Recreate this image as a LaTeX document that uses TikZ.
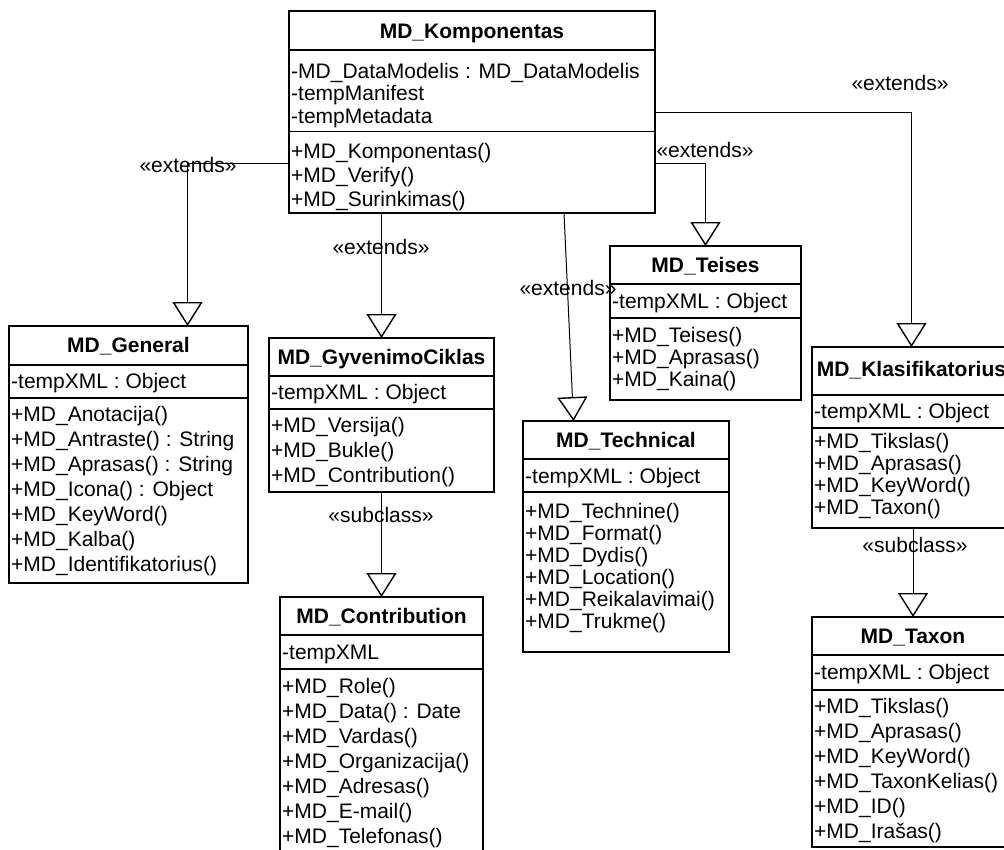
\documentclass[tikz,border=0pt]{standalone}
\usepackage{fontspec}
\setmainfont{Liberation Sans}
\usetikzlibrary{arrows.meta}
\newcommand{\umlfont}{\fontsize{21pt}{25pt}\selectfont}

\begin{document}
\begin{tikzpicture}[x=1pt, y=-1pt,
  cls/.style={draw, fill=white, line width=1.6pt, anchor=north west, inner sep=0pt, outer sep=0pt},
  sepl/.style={line width=1.6pt},
  mtxt/.style={anchor=west, inner sep=0pt, xshift=2pt, text height=15pt, text depth=0pt, font=\umlfont},
  ttxt/.style={inner sep=0pt, text height=15pt, text depth=0pt, font=\umlfont\bfseries},
  lbl/.style={inner sep=0pt, text height=15pt, text depth=0pt, font=\umlfont},
  inh/.style={line width=1pt, -{Triangle[open, length=24pt, width=30pt, line width=1.4pt]}}
]
\useasboundingbox (0,0) rectangle (1004,849);
\clip (0,0) rectangle (1004,849);

% ---- class boxes ----
\node[cls, minimum width=366pt, minimum height=202pt] (komp)  at (289,11)  {};
\node[cls, minimum width=239pt, minimum height=257pt] (gen)   at (9,326)   {};
\node[cls, minimum width=225pt, minimum height=154pt] (gyv)   at (269,338) {};
\node[cls, minimum width=203pt, minimum height=273pt] (contr) at (280,597) {};
\node[cls, minimum width=191pt, minimum height=154pt] (teis)  at (610,246) {};
\node[cls, minimum width=206pt, minimum height=231pt] (tech)  at (523,421) {};
\node[cls, minimum width=199pt, minimum height=181pt] (klas)  at (812,347) {};
\node[cls, minimum width=202pt, minimum height=230pt] (taxon) at (812,617) {};

% ---- generalisation connectors ----
\draw[inh] ([yshift=-51pt]komp.west) -| ([xshift=59pt]gen.north);
\draw[inh] (gyv.north |- komp.south) -- (gyv.north);
\draw[inh] ([xshift=92pt]komp.south) -- ([xshift=-52.5pt]tech.north);
\draw[inh] ([yshift=-51pt]komp.east) -| (teis.north);
\draw[inh] (komp.east) -| (klas.north);
\draw[inh] (gyv.south) -- (contr.north);
\draw[inh] (taxon.north |- klas.south) -- (taxon.north);

% ---- compartment separators ----
\foreach \b/\ya/\yb in {komp/50/131.5, gen/365/398, gyv/376/409, contr/635/669,
                        teis/284/318, tech/459/492, klas/395/428, taxon/655/690} {
  \draw[sepl] (\b.west |- 0,\ya) -- (\b.east |- 0,\ya);
  \draw[sepl] (\b.west |- 0,\yb) -- (\b.east |- 0,\yb);
}

% ---- MD_Komponentas ----
\node[ttxt] (komp-t) at (komp.north |- 0,30.5) {MD\_Komponentas};
\node[mtxt] (komp-a1) at (komp.west |- 0,70.5) {-MD\_DataModelis : MD\_DataModelis};
\node[mtxt] (komp-a2) at (komp.west |- 0,93)   {-tempManifest};
\node[mtxt] (komp-a3) at (komp.west |- 0,116)  {-tempMetadata};
\node[mtxt] (komp-m1) at (komp.west |- 0,151)  {+MD\_Komponentas()};
\node[mtxt] (komp-m2) at (komp.west |- 0,174.5){+MD\_Verify()};
\node[mtxt] (komp-m3) at (komp.west |- 0,198.5){+MD\_Surinkimas()};

% ---- MD_General ----
\node[ttxt] (gen-t) at (gen.north |- 0,345) {MD\_General};
\node[mtxt] (gen-a1) at (gen.west |- 0,381) {-tempXML : Object};
\node[mtxt] (gen-m1) at (gen.west |- 0,414) {+MD\_Anotacija()};
\node[mtxt] (gen-m2) at (gen.west |- 0,439) {+MD\_Antraste() : String};
\node[mtxt] (gen-m3) at (gen.west |- 0,464) {+MD\_Aprasas() : String};
\node[mtxt] (gen-m4) at (gen.west |- 0,489) {+MD\_Icona() : Object};
\node[mtxt] (gen-m5) at (gen.west |- 0,514) {+MD\_KeyWord()};
\node[mtxt] (gen-m6) at (gen.west |- 0,539) {+MD\_Kalba()};
\node[mtxt] (gen-m7) at (gen.west |- 0,564) {+MD\_Identifikatorius()};

% ---- MD_GyvenimoCiklas ----
\node[ttxt] (gyv-t) at (gyv.north |- 0,357) {MD\_GyvenimoCiklas};
\node[mtxt] (gyv-a1) at (gyv.west |- 0,392) {-tempXML : Object};
\node[mtxt] (gyv-m1) at (gyv.west |- 0,425) {+MD\_Versija()};
\node[mtxt] (gyv-m2) at (gyv.west |- 0,450) {+MD\_Bukle()};
\node[mtxt] (gyv-m3) at (gyv.west |- 0,475) {+MD\_Contribution()};

% ---- MD_Contribution ----
\node[ttxt] (contr-t) at (contr.north |- 0,616) {MD\_Contribution};
\node[mtxt] (contr-a1) at (contr.west |- 0,652) {-tempXML};
\node[mtxt] (contr-m1) at (contr.west |- 0,686) {+MD\_Role()};
\node[mtxt] (contr-m2) at (contr.west |- 0,711) {+MD\_Data() : Date};
\node[mtxt] (contr-m3) at (contr.west |- 0,736) {+MD\_Vardas()};
\node[mtxt] (contr-m4) at (contr.west |- 0,761) {+MD\_Organizacija()};
\node[mtxt] (contr-m5) at (contr.west |- 0,786) {+MD\_Adresas()};
\node[mtxt] (contr-m6) at (contr.west |- 0,811) {+MD\_E-mail()};
\node[mtxt] (contr-m7) at (contr.west |- 0,836) {+MD\_Telefonas()};

% ---- MD_Teises ----
\node[ttxt] (teis-t) at (teis.north |- 0,265) {MD\_Teises};
\node[mtxt] (teis-a1) at (teis.west |- 0,301) {-tempXML : Object};
\node[mtxt] (teis-m1) at (teis.west |- 0,335) {+MD\_Teises()};
\node[mtxt] (teis-m2) at (teis.west |- 0,357) {+MD\_Aprasas()};
\node[mtxt] (teis-m3) at (teis.west |- 0,379) {+MD\_Kaina()};

% ---- MD_Technical ----
\node[ttxt] (tech-t) at (tech.north |- 0,440) {MD\_Technical};
\node[mtxt] (tech-a1) at (tech.west |- 0,475.5) {-tempXML : Object};
\node[mtxt] (tech-m1) at (tech.west |- 0,511) {+MD\_Technine()};
\node[mtxt] (tech-m2) at (tech.west |- 0,533) {+MD\_Format()};
\node[mtxt] (tech-m3) at (tech.west |- 0,555) {+MD\_Dydis()};
\node[mtxt] (tech-m4) at (tech.west |- 0,577) {+MD\_Location()};
\node[mtxt] (tech-m5) at (tech.west |- 0,599) {+MD\_Reikalavimai()};
\node[mtxt] (tech-m6) at (tech.west |- 0,621) {+MD\_Trukme()};

% ---- MD_Klasifikatorius ----
\node[ttxt] (klas-t) at (klas.north |- 0,369) {MD\_Klasifikatorius};
\node[mtxt] (klas-a1) at (klas.west |- 0,411) {-tempXML : Object};
\node[mtxt] (klas-m1) at (klas.west |- 0,441) {+MD\_Tikslas()};
\node[mtxt] (klas-m2) at (klas.west |- 0,463) {+MD\_Aprasas()};
\node[mtxt] (klas-m3) at (klas.west |- 0,485) {+MD\_KeyWord()};
\node[mtxt] (klas-m4) at (klas.west |- 0,507) {+MD\_Taxon()};

% ---- MD_Taxon ----
\node[ttxt] (taxon-t) at (taxon.north |- 0,636) {MD\_Taxon};
\node[mtxt] (taxon-a1) at (taxon.west |- 0,672) {-tempXML : Object};
\node[mtxt] (taxon-m1) at (taxon.west |- 0,706) {+MD\_Tikslas()};
\node[mtxt] (taxon-m2) at (taxon.west |- 0,731) {+MD\_Aprasas()};
\node[mtxt] (taxon-m3) at (taxon.west |- 0,756) {+MD\_KeyWord()};
\node[mtxt] (taxon-m4) at (taxon.west |- 0,781) {+MD\_TaxonKelias()};
\node[mtxt] (taxon-m5) at (taxon.west |- 0,806) {+MD\_ID()};
\node[mtxt] (taxon-m6) at (taxon.west |- 0,831) {+MD\_Irašas()};

% ---- stereotype labels ----
\node[lbl] (lab-gen)   at (188,165) {«extends»};
\node[lbl] (lab-gyv)   at (381,247) {«extends»};
\node[lbl] (lab-tech)  at (568,288) {«extends»};
\node[lbl] (lab-teis)  at (705,150) {«extends»};
\node[lbl] (lab-klas)  at (900,83)  {«extends»};
\node[lbl] (lab-contr) at (381,515) {«subclass»};
\node[lbl] (lab-taxon) at (915,545) {«subclass»};
\end{tikzpicture}
\end{document}
